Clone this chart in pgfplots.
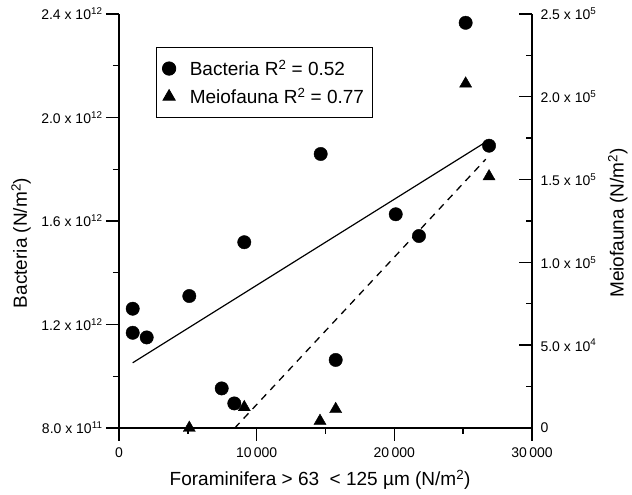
\documentclass[border=0pt]{standalone}
\usepackage{fontspec}
\setmainfont{Liberation Sans}
\usepackage{pgfplots}
\pgfplotsset{compat=1.18}
\newcommand{\tl}{\fontsize{14}{16}\selectfont}
\newcommand{\lb}{\fontsize{19}{22}\selectfont}
\begin{document}
\begin{tikzpicture}
\pgfplotsset{
  myax/.style={
    scale only axis, width=413pt, height=414pt,
    at={(119pt,67pt)}, anchor=south west,
    xmin=0, xmax=30000, clip=false, scaled ticks=false,
    axis line style={line width=1.6pt},
    every tick/.style={line width=1.4pt, black},
    major tick length=13pt, minor tick length=6pt,
    tick label style={font=\tl},
    label style={font=\lb},
  }
}
\begin{axis}[myax,
  ymin=8e11, ymax=2.4e12,
  axis x line*=bottom, axis y line*=left,
  tick align=outside,
  xtick={0,10000,20000,30000}, minor xtick={5000,15000,25000},
  xticklabels={0,10\,000,20\,000,30\,000},
  xticklabel style={yshift=-3pt},
  ytick={8e11,1.2e12,1.6e12,2e12,2.4e12},
  minor ytick={1e12,1.4e12,1.8e12,2.2e12},
  yticklabels={8.0 x 10\textsuperscript{11},1.2 x 10\textsuperscript{12},1.6 x 10\textsuperscript{12},2.0 x 10\textsuperscript{12},2.4 x 10\textsuperscript{12}},
  xlabel={Foraminifera > 63\ \ < 125 µm (N/m\textsuperscript{2})},
  xlabel style={at={(axis description cs:0.487,-0.140)}, anchor=base},
  ylabel={Bacteria (N/m\textsuperscript{2})},
  ylabel style={at={(axis description cs:-0.237,0.447)}, anchor=center},
  legend style={at={(axis description cs:0.0896,0.920)}, anchor=north west,
    draw=black, line width=0.8pt, font=\lb, inner xsep=6pt, inner ysep=10.5pt,
    row sep=7pt},
  legend cell align=left,
  legend image code/.code={\draw[#1] plot coordinates {(0pt,0pt)};},
]
\addplot[only marks, mark=*, mark size=6.7pt, black, mark options={fill=black}] coordinates {
(995,1.261e12) (995,1.168e12) (2012,1.150e12) (5107,1.310e12) (7460,9.53e11)
(8375,8.95e11) (9101,1.518e12) (14650,1.859e12) (15740,1.063e12) (20100,1.626e12)
(21790,1.542e12) (25180,2.366e12) (26880,1.891e12)};
\addlegendentry{\hspace{12pt}Bacteria R\textsuperscript{2} = 0.52}
\addlegendimage{only marks, mark=triangle*, mark size=7pt, black, mark options={fill=black}}
\addlegendentry{\hspace{12pt}Meiofauna R\textsuperscript{2} = 0.77}
\addplot[black, line width=1.2pt, forget plot] coordinates {(995,1.052e12) (26880,1.913e12)};
\end{axis}
\begin{axis}[myax,
  ymin=0, ymax=2.5e5,
  axis x line=none, axis y line*=right,
  tick align=inside,
  ytick={0,5e4,1e5,1.5e5,2e5,2.5e5},
  minor ytick={2.5e4,7.5e4,1.25e5,1.75e5,2.25e5},
  yticklabels={0,5.0 x 10\textsuperscript{4},1.0 x 10\textsuperscript{5},1.5 x 10\textsuperscript{5},2.0 x 10\textsuperscript{5},2.5 x 10\textsuperscript{5}},
  yticklabel style={xshift=5pt},
  ylabel={Meiofauna (N/m\textsuperscript{2})},
  ylabel style={at={(axis description cs:1.208,0.495)}, anchor=center, rotate=0},
]
\addplot[only marks, mark=triangle*, mark size=7pt, black, mark options={fill=black}] coordinates {
(5107,0) (9100,1.25e4) (14600,4200) (15740,1.135e4) (25180,2.079e5) (26880,1.519e5)};
\addplot[black, line width=1.3pt, dash pattern=on 7pt off 6pt] coordinates {(8410,0) (26640,1.623e5)};
\end{axis}
\pgfresetboundingbox
\path (0,0) rectangle (632pt,495pt);
\end{tikzpicture}
\end{document}
